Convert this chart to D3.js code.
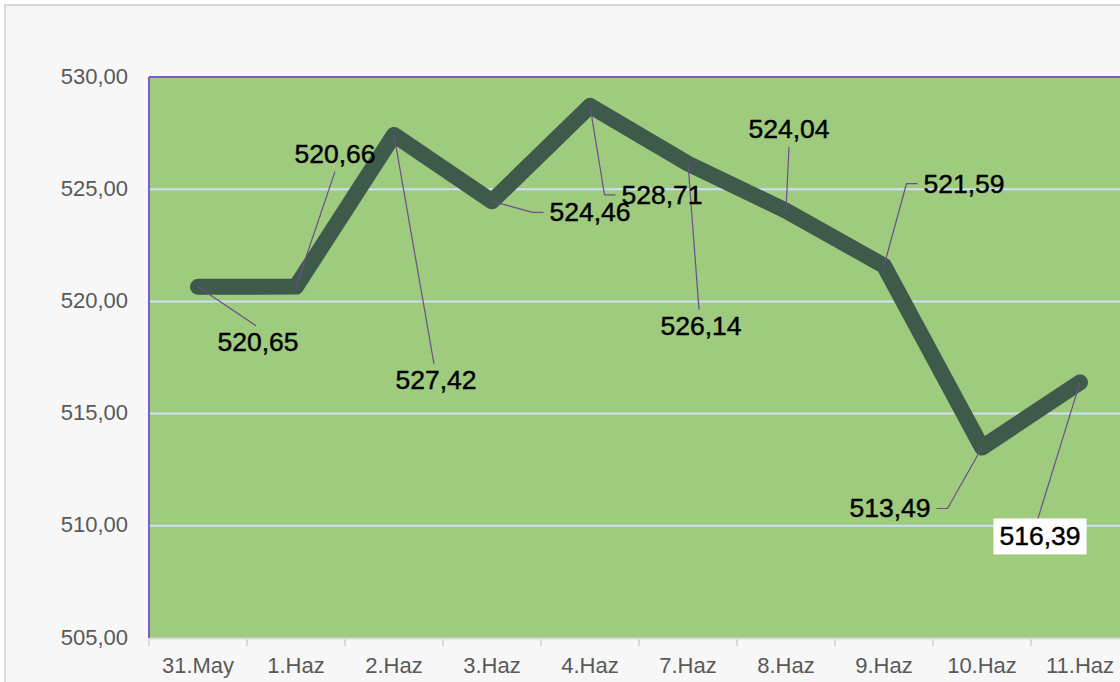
<!DOCTYPE html>
<html>
<head>
<meta charset="utf-8">
<script src="https://cdn.jsdelivr.net/npm/d3@7"></script>
<style>
  html, body { margin: 0; padding: 0; background: #ffffff; }
  svg { display: block; font-family: "Liberation Sans", Arial, sans-serif; }
</style>
</head>
<body>
<svg id="chart" width="1120" height="682"></svg>
<script>
const categories = ["31.May", "1.Haz", "2.Haz", "3.Haz", "4.Haz", "7.Haz", "8.Haz", "9.Haz", "10.Haz", "11.Haz"];
const values = [520.65, 520.66, 527.42, 524.46, 528.71, 526.14, 524.04, 521.59, 513.49, 516.39];
const yTicks = [505, 510, 515, 520, 525, 530];

// label placement (pixel offsets from the point to label centre / baseline), leader type
const labelDx = [60, 39, 42, 98, 72, 13, 3, 80, -92, -40];
const labelDy = [64, -124, 254, 20, 98, 171, -73, -73, 70, 163];
const leaderType = ["v", "v", "v", "h", "h", "v", "v", "h", "h", "v"];
const boxed = [false, false, false, false, false, false, false, false, false, true];

const svg = d3.select("#chart");

const margin = { top: 77, left: 149, bottom: 638, right: 1129 };

// outer chart area
svg.append("rect")
  .attr("x", 5).attr("y", 5)
  .attr("width", 1200).attr("height", 700)
  .attr("fill", "#f7f7f7")
  .attr("stroke", "#d9d9d9")
  .attr("stroke-width", 2);

const x = d3.scaleBand().domain(categories).range([margin.left, margin.right]);
const y = d3.scaleLinear().domain([505, 530]).range([margin.bottom, margin.top]);

// plot area
svg.append("rect")
  .attr("x", margin.left).attr("y", margin.top)
  .attr("width", margin.right - margin.left)
  .attr("height", margin.bottom - margin.top)
  .attr("fill", "#9ecb7e");

// gridlines
svg.append("g")
  .selectAll("line")
  .data(yTicks.filter(d => d > 505 && d < 530))
  .enter()
  .append("line")
  .attr("x1", margin.left).attr("x2", margin.right)
  .attr("y1", d => y(d)).attr("y2", d => y(d))
  .attr("stroke", "#cfe0f4")
  .attr("stroke-width", 2);

// plot border top + left
svg.append("line")
  .attr("x1", margin.left).attr("x2", margin.right)
  .attr("y1", margin.top).attr("y2", margin.top)
  .attr("stroke", "#7b5cc9").attr("stroke-width", 2);
svg.append("line")
  .attr("x1", margin.left).attr("x2", margin.left)
  .attr("y1", margin.top).attr("y2", margin.bottom)
  .attr("stroke", "#7b5cc9").attr("stroke-width", 2);

// axes
const fmt = v => d3.format(".2f")(v).replace(".", ",");

const yAxis = d3.axisLeft(y).tickValues(yTicks).tickFormat(fmt).tickSize(0).tickPadding(21);
const gy = svg.append("g").attr("transform", `translate(${margin.left},0)`).call(yAxis);
gy.select(".domain").remove();
gy.selectAll("text")
  .attr("font-size", 22)
  .attr("font-family", "Liberation Sans, Arial, sans-serif")
  .attr("fill", "#595959")
  .attr("dy", "0.28em");

const xAxis = d3.axisBottom(x).tickSize(0).tickPadding(0);
const gx = svg.append("g").attr("transform", `translate(0,${margin.bottom})`).call(xAxis);
gx.select(".domain").attr("stroke", "#d9d9d9").attr("stroke-width", 2);
gx.selectAll(".tick line").remove();
gx.selectAll("text")
  .attr("font-size", 22)
  .attr("font-family", "Liberation Sans, Arial, sans-serif")
  .attr("fill", "#595959")
  .attr("y", 35)
  .attr("dy", 0);

// category separators
svg.append("g")
  .selectAll("line")
  .data(categories)
  .enter()
  .append("line")
  .attr("x1", d => x(d)).attr("x2", d => x(d))
  .attr("y1", margin.bottom).attr("y2", margin.bottom + 8)
  .attr("stroke", "#d9d9d9")
  .attr("stroke-width", 2);

// series line
const line = d3.line()
  .x((d, i) => x(categories[i]) + x.bandwidth() / 2)
  .y(d => y(d));

svg.append("path")
  .datum(values)
  .attr("d", line)
  .attr("fill", "none")
  .attr("stroke", "#3e5a4b")
  .attr("stroke-width", 16)
  .attr("stroke-linejoin", "round")
  .attr("stroke-linecap", "round");

// data labels with leader lines
const labels = svg.append("g");
values.forEach((v, i) => {
  const px = x(categories[i]) + x.bandwidth() / 2;
  const py = y(v);
  const cx = px + labelDx[i];
  const base = py + labelDy[i];

  const t = labels.append("text")
    .attr("x", cx).attr("y", base)
    .attr("text-anchor", "middle")
    .attr("font-size", 26.5)
    .attr("fill", "#000000")
    .attr("stroke", "#000000")
    .attr("stroke-width", 0.45)
    .text(fmt(v));

  const bb = t.node().getBBox();
  const top = base - 19;
  const left = bb.x, right = bb.x + bb.width;

  if (boxed[i]) {
    labels.insert("rect", "text")
      .attr("x", left - 6).attr("y", top - 8)
      .attr("width", bb.width + 12).attr("height", 36)
      .attr("fill", "#ffffff");
  }

  let pts;
  if (leaderType[i] === "v") {
    if (py < top) {
      pts = [[px, py], [cx - 2, boxed[i] ? top - 8 : top - 6]];
    } else {
      pts = [[px, py], [cx, base + 9]];
    }
  } else {
    const my = base - 9;
    if (cx > px) {
      pts = [[px, py], [left - 17, my], [left - 6, my]];
    } else {
      pts = [[px, py], [right + 17, my], [right + 6, my]];
    }
  }
  labels.insert("path", "text")
    .attr("d", d3.line()(pts))
    .attr("fill", "none")
    .attr("stroke", "#6a4f8a")
    .attr("stroke-width", 1.2);
});
</script>
</body>
</html>
